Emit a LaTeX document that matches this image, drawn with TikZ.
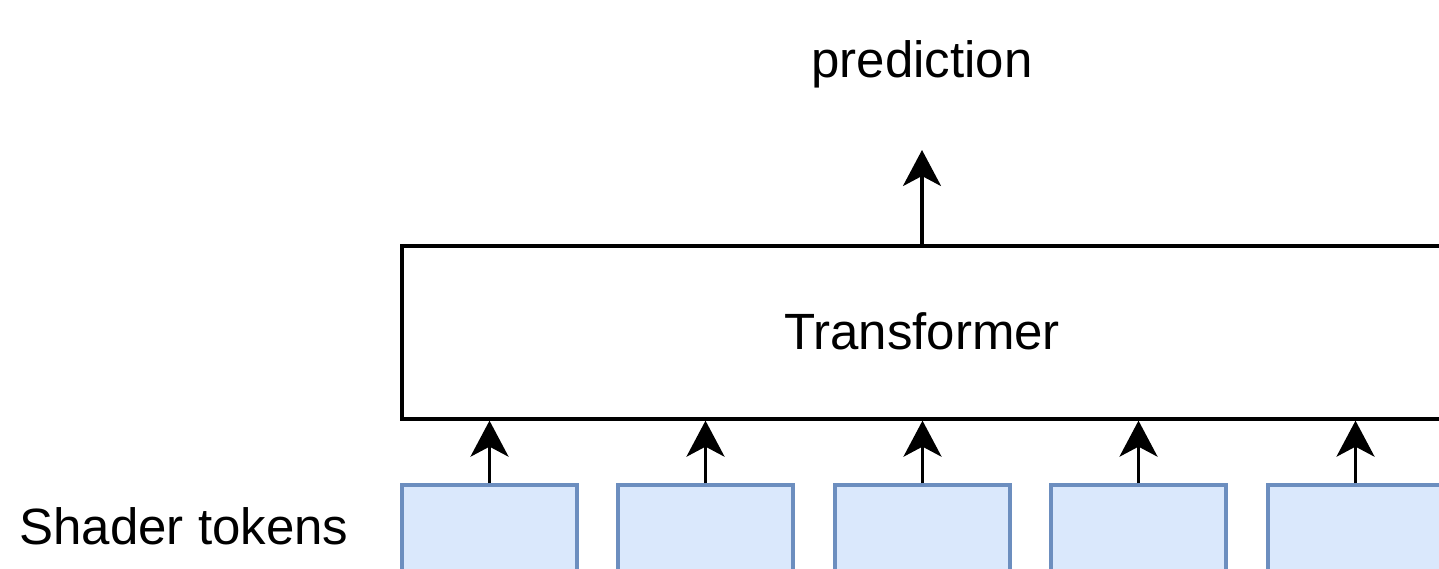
\documentclass[tikz,border=0pt]{standalone}
\usepackage{fontspec}
\setmainfont{Liberation Sans}
\usetikzlibrary{arrows.meta}
\definecolor{tokfill}{HTML}{DAE8FC}
\definecolor{tokdraw}{HTML}{6C8EBF}
\begin{document}
\begin{tikzpicture}[x=1pt,y=-1pt,
  lbl/.style={font=\fontsize{51}{60}\selectfont, inner sep=0pt},
  tfbox/.style={draw=black, line width=3.3pt, fill=white, minimum width=1040pt, minimum height=173pt, inner sep=0pt},
  tokbox/.style={draw=tokdraw, fill=tokfill, line width=3.3pt, minimum width=175pt, minimum height=110pt, inner sep=0pt},
  arr/.style={line width=3.3pt, -{Stealth[length=36pt, width=38pt, inset=10pt]}}]
\useasboundingbox (0,0) rectangle (1439,569);
\clip (0,0) rectangle (1439,569);
\node[tfbox] (T) at (922,332.5) {};
\node[lbl] (Tl) at (922,331) {Transformer};
\foreach \i/\x in {1/489.5, 2/705.5, 3/922.5, 4/1138.5, 5/1355.5} {
  \node[tokbox] (t\i) at (\x,540) {};
  \draw[arr] (t\i.north) -- (t\i.north |- T.south);
}
\node[lbl] (st) at (184,526) {Shader tokens};
\node[lbl] (pred) at (922,64) {prediction};
\coordinate (ptip) at (922,150);
\draw[arr] (T.north -| ptip) -- (ptip);
\end{tikzpicture}
\end{document}
